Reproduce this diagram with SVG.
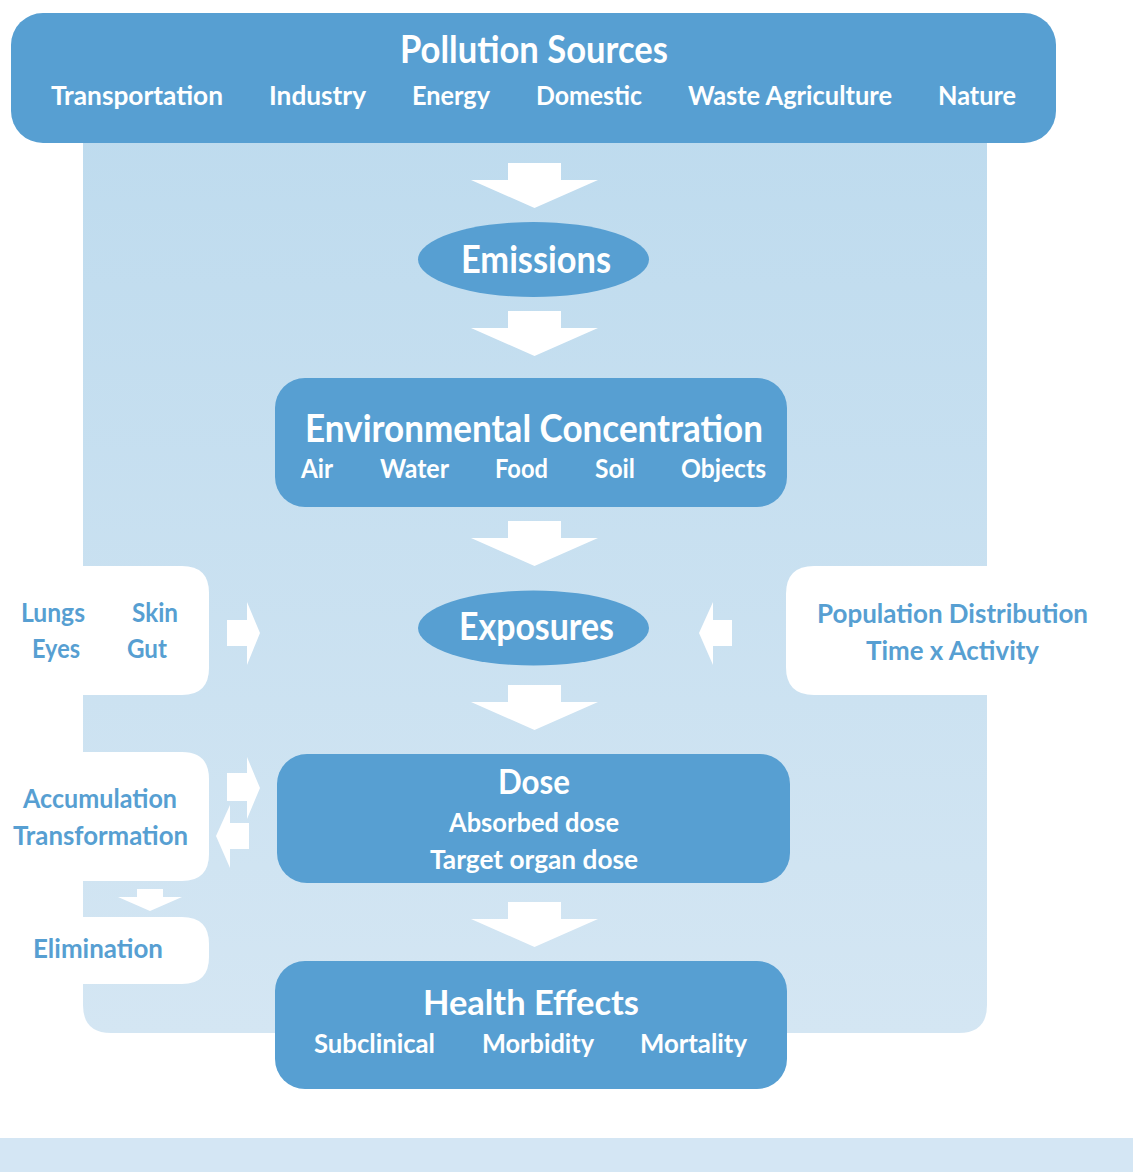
<svg xmlns="http://www.w3.org/2000/svg" width="1133" height="1172" viewBox="0 0 1133 1172">
  <style>
    text { font-family: Lato, "Open Sans", "Liberation Sans", sans-serif; font-weight: bold; }
    .w { fill: #ffffff; }
    .b { fill: #579fd2; }
    .big { font-size: 38px; }
    .mid { font-size: 35px; }
    .sub { font-size: 27px; }
    .small { font-size: 26px; }
    .box { fill: #579fd2; }
    .side { fill: #ffffff; }
    .arrow { fill: #ffffff; }
  </style>
  <defs>
    <linearGradient id="panelFill" x1="0" y1="0" x2="0" y2="1">
      <stop offset="0" stop-color="#bedbee"/>
      <stop offset="1" stop-color="#d4e6f3"/>
    </linearGradient>
    <path id="down" d="M-26.5,0 H26.5 V17 H63.5 L0,45 L-63.5,17 H-26.5 Z"/>
  </defs>

  <rect width="1133" height="1172" fill="#ffffff"/>

  <!-- backdrop panel and footer band -->
  <path d="M83,120 H987 V1005 Q987,1033 959,1033 H111 Q83,1033 83,1005 Z" fill="url(#panelFill)"/>
  <rect x="0" y="1138" width="1133" height="34" fill="#d4e6f4"/>

  <!-- connectors -->
  <g id="connectors" class="arrow">
    <use href="#down" x="534.5" y="163"/>
    <use href="#down" x="534.5" y="311"/>
    <use href="#down" x="534.5" y="521"/>
    <use href="#down" x="534.5" y="685"/>
    <use href="#down" x="534.5" y="902"/>
    <!-- routes of entry into exposures -->
    <path d="M227,620 H247 V602 L260,633 L247,665 V646 H227 Z"/>
    <!-- population factors into exposures -->
    <path d="M732,620 H713 V602 L699,633 L713,665 V646 H732 Z"/>
    <!-- dose exchange with accumulation -->
    <path d="M227,773 H247 V757 L260,788 L247,819 V801 H227 Z"/>
    <path d="M249,823 H230 V805 L216,836 L230,868 V849 H249 Z"/>
    <!-- accumulation to elimination -->
    <path d="M137,889 H163 V897 H182 L150,911 L118,897 H137 Z"/>
  </g>

  <g id="sources">
    <rect class="box" x="11" y="13" width="1045" height="130" rx="32"/>
    <text class="w big" x="400" y="63" textLength="268" lengthAdjust="spacingAndGlyphs">Pollution Sources</text>
    <text class="w sub" x="51" y="105" textLength="172" lengthAdjust="spacingAndGlyphs">Transportation</text>
    <text class="w sub" x="269" y="105" textLength="97" lengthAdjust="spacingAndGlyphs">Industry</text>
    <text class="w sub" x="412" y="105" textLength="78" lengthAdjust="spacingAndGlyphs">Energy</text>
    <text class="w sub" x="536" y="105" textLength="106" lengthAdjust="spacingAndGlyphs">Domestic</text>
    <text class="w sub" x="688" y="105" textLength="204" lengthAdjust="spacingAndGlyphs">Waste Agriculture</text>
    <text class="w sub" x="938" y="105" textLength="78" lengthAdjust="spacingAndGlyphs">Nature</text>
  </g>

  <g id="emissions">
    <ellipse class="box" cx="533.5" cy="259.5" rx="115.5" ry="37.5"/>
    <text class="w big" x="461" y="273" textLength="150" lengthAdjust="spacingAndGlyphs">Emissions</text>
  </g>

  <g id="concentration">
    <rect class="box" x="275" y="378" width="512" height="129" rx="30"/>
    <text class="w big" x="305" y="442" textLength="458" lengthAdjust="spacingAndGlyphs">Environmental Concentration</text>
    <text class="w sub" x="301" y="478" textLength="32" lengthAdjust="spacingAndGlyphs">Air</text>
    <text class="w sub" x="380" y="478" textLength="69" lengthAdjust="spacingAndGlyphs">Water</text>
    <text class="w sub" x="495" y="478" textLength="53" lengthAdjust="spacingAndGlyphs">Food</text>
    <text class="w sub" x="595" y="478" textLength="40" lengthAdjust="spacingAndGlyphs">Soil</text>
    <text class="w sub" x="681" y="478" textLength="85" lengthAdjust="spacingAndGlyphs">Objects</text>
  </g>

  <g id="routes">
    <path class="side" d="M0,566 H182 Q209,566 209,593 V668 Q209,695 182,695 H0 Z"/>
    <text class="b sub" x="21" y="622" textLength="64" lengthAdjust="spacingAndGlyphs">Lungs</text>
    <text class="b sub" x="132" y="622" textLength="46" lengthAdjust="spacingAndGlyphs">Skin</text>
    <text class="b sub" x="32" y="658" textLength="48" lengthAdjust="spacingAndGlyphs">Eyes</text>
    <text class="b sub" x="127" y="658" textLength="40" lengthAdjust="spacingAndGlyphs">Gut</text>
  </g>

  <g id="exposures">
    <ellipse class="box" cx="533.5" cy="628" rx="115.5" ry="37.5"/>
    <text class="w big" x="459" y="640" textLength="155" lengthAdjust="spacingAndGlyphs">Exposures</text>
  </g>

  <g id="population">
    <path class="side" d="M1133,566 H814 Q786,566 786,594 V667 Q786,695 814,695 H1133 Z"/>
    <text class="b sub" x="817" y="623" textLength="271" lengthAdjust="spacingAndGlyphs">Population Distribution</text>
    <text class="b sub" x="866" y="660" textLength="173" lengthAdjust="spacingAndGlyphs">Time x Activity</text>
  </g>

  <g id="accumulation">
    <path class="side" d="M0,752 H182 Q209,752 209,779 V854 Q209,881 182,881 H0 Z"/>
    <text class="b sub" x="23" y="808" textLength="154" lengthAdjust="spacingAndGlyphs">Accumulation</text>
    <text class="b sub" x="13" y="845" textLength="175" lengthAdjust="spacingAndGlyphs">Transformation</text>
  </g>

  <g id="dose">
    <rect class="box" x="277" y="754" width="513" height="129" rx="30"/>
    <text class="w mid" x="498" y="794" textLength="72" lengthAdjust="spacingAndGlyphs">Dose</text>
    <text class="w small" x="449" y="832" textLength="170" lengthAdjust="spacingAndGlyphs">Absorbed dose</text>
    <text class="w small" x="430" y="869" textLength="208" lengthAdjust="spacingAndGlyphs">Target organ dose</text>
  </g>

  <g id="elimination">
    <path class="side" d="M0,917 H182 Q209,917 209,944 V957 Q209,984 182,984 H0 Z"/>
    <text class="b sub" x="33" y="958" textLength="130" lengthAdjust="spacingAndGlyphs">Elimination</text>
  </g>

  <g id="health">
    <rect class="box" x="275" y="961" width="512" height="128" rx="30"/>
    <text class="w mid" x="423" y="1015" textLength="216" lengthAdjust="spacingAndGlyphs">Health Effects</text>
    <text class="w sub" x="314" y="1053" textLength="121" lengthAdjust="spacingAndGlyphs">Subclinical</text>
    <text class="w sub" x="482" y="1053" textLength="112" lengthAdjust="spacingAndGlyphs">Morbidity</text>
    <text class="w sub" x="640" y="1053" textLength="107" lengthAdjust="spacingAndGlyphs">Mortality</text>
  </g>
</svg>
